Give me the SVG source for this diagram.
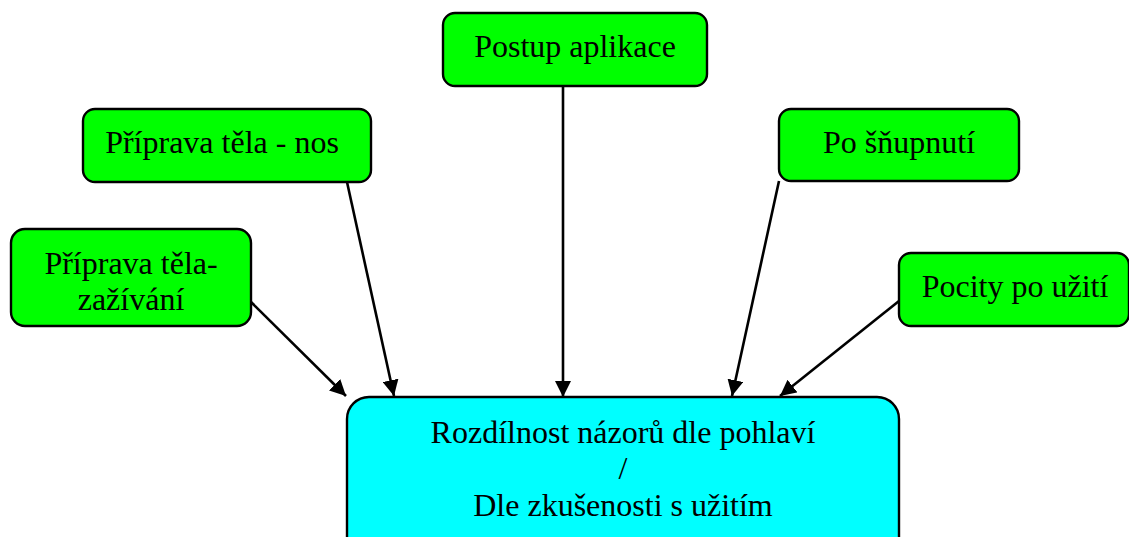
<svg xmlns="http://www.w3.org/2000/svg" width="1129" height="537" viewBox="0 0 1129 537">
<style>
.g{fill:#00ff00;stroke:#000;stroke-width:2.4}
.c{fill:#00ffff;stroke:#000;stroke-width:2.4}
.t{font-family:"Liberation Serif","Times New Roman",serif;font-size:32px;fill:#000;text-anchor:middle}
.e{stroke:#000;stroke-width:2.6;fill:none;marker-end:url(#ah)}
</style>
<defs>
<marker id="ah" markerUnits="userSpaceOnUse" markerWidth="16" markerHeight="16" refX="16" refY="8" orient="auto" viewBox="0 0 16 16">
<path d="M0,0 L16,8 L0,16 z" fill="#000"/>
</marker>
</defs>
<rect width="1129" height="537" fill="#fff"/>
<g id="connectors">
<line class="e" x1="251" y1="302" x2="346" y2="396"/>
<line class="e" x1="347" y1="182" x2="394" y2="396"/>
<line class="e" x1="563" y1="86" x2="563" y2="397"/>
<line class="e" x1="779" y1="181" x2="732" y2="396"/>
<line class="e" x1="899" y1="301" x2="780" y2="396"/>
</g>
<g id="postup">
<rect class="g" x="443" y="13" width="264" height="73" rx="12"/>
<text class="t" x="575" y="57">Postup aplikace</text>
</g>
<g id="priprava-nos">
<rect class="g" x="83" y="109" width="288" height="73" rx="12"/>
<text class="t" x="222" y="153">Příprava těla - nos</text>
</g>
<g id="priprava-zazivani">
<rect class="g" x="11" y="229" width="240" height="97" rx="14"/>
<text class="t" x="131" y="274">Příprava těla-</text>
<text class="t" x="131" y="310">zažívání</text>
</g>
<g id="po-snupnuti">
<rect class="g" x="779" y="109" width="240" height="72" rx="12"/>
<text class="t" x="899" y="153">Po šňupnutí</text>
</g>
<g id="pocity">
<rect class="g" x="899" y="253" width="230" height="73" rx="12"/>
<text class="t" x="1015" y="297">Pocity po užití</text>
</g>
<g id="rozdilnost">
<rect class="c" x="347" y="397" width="552" height="170" rx="22"/>
<text class="t" x="623" y="443">Rozdílnost názorů dle pohlaví</text>
<text class="t" x="623" y="479">/</text>
<text class="t" x="623" y="516">Dle zkušenosti s užitím</text>
</g>
</svg>
